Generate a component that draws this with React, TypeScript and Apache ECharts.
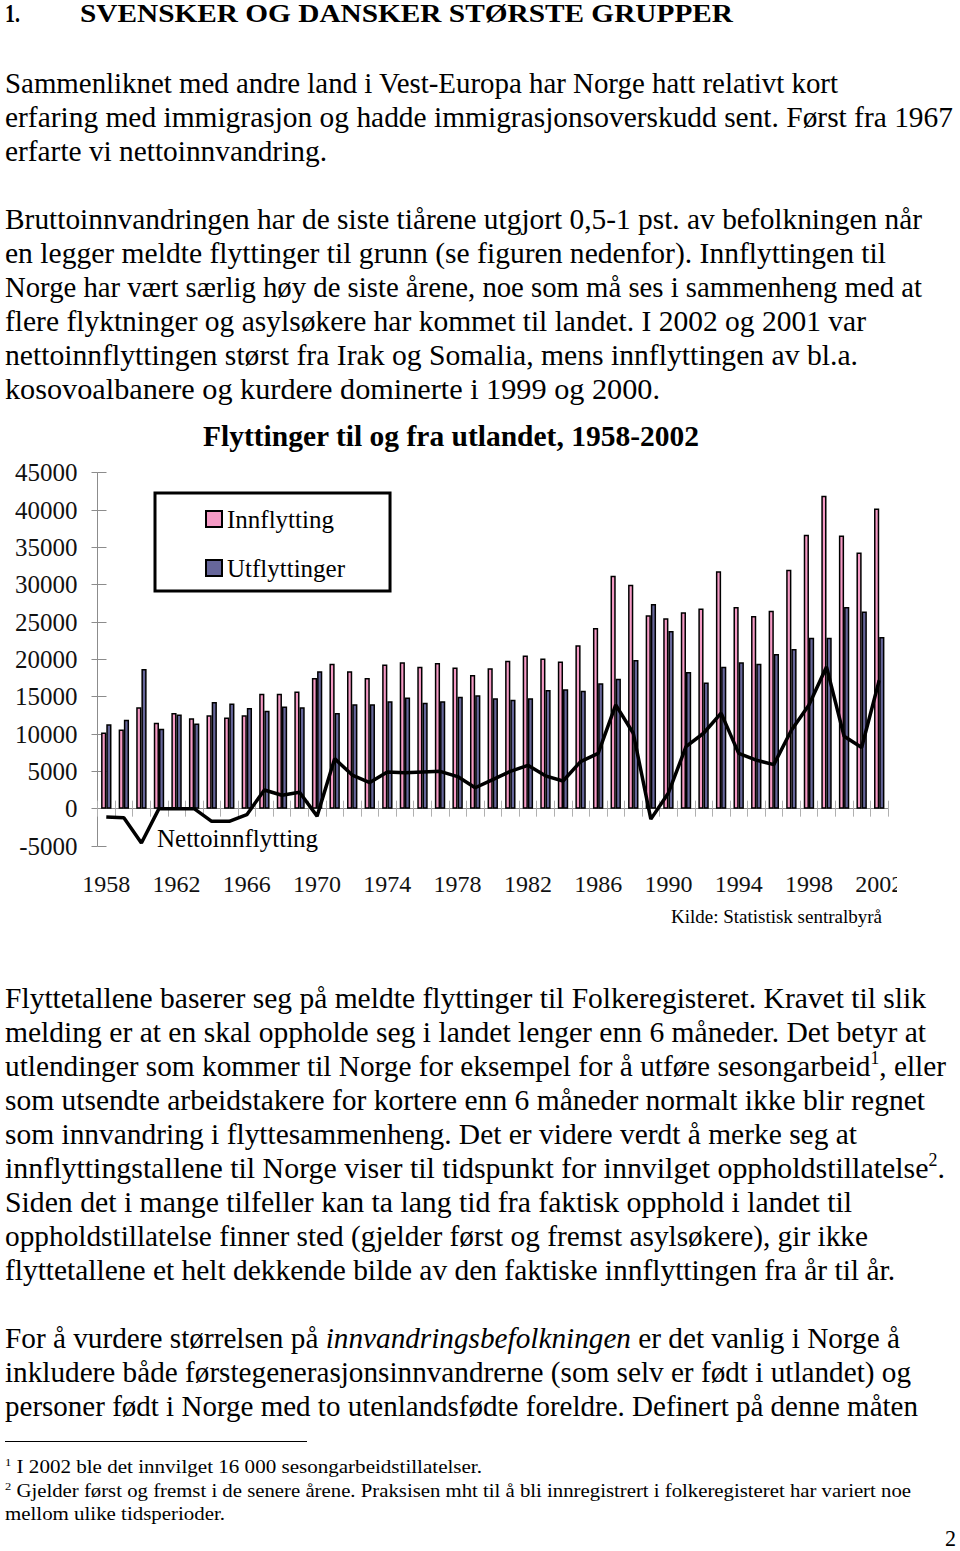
import React, { useEffect, useLayoutEffect, useRef } from "react";
import * as echarts from "echarts";

const years = [
  "1958", "1959", "1960", "1961", "1962", "1963", "1964", "1965", "1966", "1967",
  "1968", "1969", "1970", "1971", "1972", "1973", "1974", "1975", "1976", "1977",
  "1978", "1979", "1980", "1981", "1982", "1983", "1984", "1985", "1986", "1987",
  "1988", "1989", "1990", "1991", "1992", "1993", "1994", "1995", "1996", "1997",
  "1998", "1999", "2000", "2001", "2002",
];

const innflytting = [
  10200, 10600, 13600, 11500, 12800, 12100, 12500, 12200, 12500, 15400,
  15400, 15700, 17500, 19400, 18400, 17500, 19300, 19600, 19000, 19500,
  18900, 17900, 18800, 19800, 20500, 20100, 19700, 21900, 24200, 31200,
  30000, 25900, 25500, 26300, 26800, 31800, 27000, 25800, 26500, 32000,
  36700, 41900, 36600, 34300, 40200,
];

const utflyttinger = [
  11300, 11900, 18700, 10700, 12600, 11400, 14300, 14100, 13500, 13100,
  13700, 13600, 18400, 12800, 14000, 14000, 14400, 14900, 14200, 14400,
  15000, 15200, 14800, 14600, 14800, 15900, 16000, 15800, 16800, 17400,
  19900, 27400, 23800, 18300, 16900, 19000, 19600, 19400, 20700, 21400,
  22900, 22900, 27000, 26400, 23000,
];

const nettoinnflytting = [
  -1100, -1200, -4600, 0, 0, 0, -1700, -1700, -800, 2500,
  1800, 2200, -1000, 6700, 4500, 3500, 4900, 4800, 4900, 5000,
  4300, 2800, 3900, 5000, 5800, 4400, 3700, 6300, 7400, 13900,
  10100, -1400, 2100, 8300, 10100, 12800, 7400, 6500, 5900, 10500,
  13900, 19000, 9700, 8200, 17200,
];

const SERIF = '"Liberation Serif", "Times New Roman", serif';

function FitLine(props: {
  x: number;
  base: number;
  w: number;
  size: number;
  bold?: boolean;
  children: React.ReactNode;
}) {
  const ref = useRef<HTMLDivElement>(null);
  useLayoutEffect(() => {
    const el = ref.current;
    if (!el) return;
    el.style.transform = "none";
    const nat = el.getBoundingClientRect().width;
    if (nat > 0) el.style.transform = `scaleX(${props.w / nat})`;
  }, [props.w]);
  return (
    <div
      ref={ref}
      style={{
        position: "absolute",
        left: props.x,
        top: props.base - props.size * 0.8375,
        fontSize: props.size,
        lineHeight: `${props.size}px`,
        whiteSpace: "nowrap",
        fontFamily: SERIF,
        fontWeight: props.bold ? "bold" : "normal",
        transformOrigin: "0 0",
        color: "#000",
      }}
    >
      {props.children}
    </div>
  );
}

const Sup = (p: { children: React.ReactNode }) => (
  <sup style={{ fontSize: "0.6em", verticalAlign: "0.65em", lineHeight: 0 }}>{p.children}</sup>
);

function Chart() {
  const ref = useRef<HTMLDivElement>(null);
  useEffect(() => {
    if (!ref.current) return;
    const chart = echarts.init(ref.current, null, { renderer: "svg" });
    const axisGray = "#8c8c8c";
    chart.setOption({
      animation: false,
      title: {
        text: "Flyttinger til og fra utlandet, 1958-2002",
        left: 203,
        top: 21,
        padding: 0,
        textStyle: { fontFamily: SERIF, fontWeight: "bold", fontSize: 29.5, color: "#000" },
      },
      legend: {
        data: ["Innflytting", "Utflyttinger"],
        orient: "vertical",
        left: 155,
        top: 93,
        icon: "rect",
        itemWidth: 16,
        itemHeight: 16,
        itemGap: 23,
        padding: [13, 45, 10, 50],
        borderColor: "#000",
        borderWidth: 3,
        selectedMode: false,
        textStyle: { fontFamily: SERIF, fontSize: 25, lineHeight: 26, color: "#000" },
      },
      grid: {
        left: 97.5,
        top: 72.7,
        width: 790.5,
        height: 373.3,
        containLabel: false,
        outerBoundsMode: "none",
      },
      xAxis: [
        {
          type: "category",
          data: years,
          position: "bottom",
          axisLine: { show: false, onZero: false },
          axisTick: { show: false },
          axisLabel: {
            interval: 3,
            margin: 26,
            fontFamily: SERIF,
            fontSize: 24,
            color: "#111",
          },
        },
        {
          type: "category",
          data: years,
          position: "bottom",
          axisLine: { show: true, onZero: true, onZeroAxisIndex: 0, lineStyle: { color: axisGray, width: 1 } },
          axisTick: { show: true, interval: 0, length: 8, lineStyle: { color: "#b0b0b0" } },
          axisLabel: { show: false },
        },
        {
          type: "category",
          data: years,
          position: "bottom",
          axisLine: { show: false, onZero: true, onZeroAxisIndex: 0 },
          axisTick: { show: true, inside: true, interval: 0, length: 8, lineStyle: { color: "#b0b0b0" } },
          axisLabel: { show: false },
        },
      ],
      yAxis: [
        {
          type: "value",
          min: -5000,
          max: 45000,
          interval: 5000,
          position: "left",
          axisLine: { show: true, lineStyle: { color: axisGray, width: 1 } },
          axisTick: { show: true, length: 6, lineStyle: { color: axisGray } },
          splitLine: { show: false },
          axisLabel: {
            margin: 20,
            fontFamily: SERIF,
            fontSize: 25,
            color: "#111",
            formatter: (v: number) => String(v),
          },
        },
        {
          type: "value",
          min: -5000,
          max: 45000,
          interval: 5000,
          position: "left",
          axisLine: { show: false },
          axisTick: { show: true, inside: true, length: 9, lineStyle: { color: axisGray } },
          splitLine: { show: false },
          axisLabel: { show: false },
        },
      ],
      series: [
        {
          name: "Innflytting",
          type: "bar",
          data: innflytting,
          barWidth: 5.2,
          barGap: "0%",
          itemStyle: { color: "#F59AC5", borderColor: "#000", borderWidth: 1.5 },
          z: 2,
        },
        {
          name: "Utflyttinger",
          type: "bar",
          data: utflyttinger,
          barWidth: 5.2,
          barGap: "0%",
          itemStyle: { color: "#66669A", borderColor: "#000", borderWidth: 1.5 },
          z: 2,
        },
        {
          name: "Nettoinnflytting",
          type: "line",
          data: nettoinnflytting,
          showSymbol: false,
          symbol: "none",
          lineStyle: { color: "#000", width: 3.5 },
          z: 5,
        },
      ],
      graphic: [
        {
          type: "text",
          left: 157,
          top: 426,
          style: { text: "Nettoinnflytting", fontFamily: SERIF, fontSize: 25, fill: "#000" },
        },
        {
          type: "text",
          right: 15,
          top: 507,
          style: { text: "Kilde: Statistisk sentralbyrå", fontFamily: SERIF, fontSize: 19, fill: "#000" },
        },
      ],
    });
    return () => chart.dispose();
  }, []);
  return (
    <div
      ref={ref}
      style={{ position: "absolute", left: 0, top: 400, width: 897, height: 540 }}
    />
  );
}

export default function App() {
  const S = 30;
  return (
    <div style={{ position: "absolute", left: 0, top: 0, width: 960, height: 1551, background: "#fff", overflow: "hidden" }}>
      <FitLine x={5} base={23} w={15} size={26} bold>1.</FitLine>
      <FitLine x={80} base={23} w={653} size={26} bold>SVENSKER OG DANSKER STØRSTE GRUPPER</FitLine>

      <FitLine x={5} base={93} w={833} size={S}>Sammenliknet med andre land i Vest-Europa har Norge hatt relativt kort</FitLine>
      <FitLine x={5} base={127} w={948} size={S}>erfaring med immigrasjon og hadde immigrasjonsoverskudd sent. Først fra 1967</FitLine>
      <FitLine x={5} base={161} w={322} size={S}>erfarte vi nettoinnvandring.</FitLine>

      <FitLine x={5} base={229} w={917} size={S}>Bruttoinnvandringen har de siste tiårene utgjort 0,5-1 pst. av befolkningen når</FitLine>
      <FitLine x={5} base={263} w={881} size={S}>en legger meldte flyttinger til grunn (se figuren nedenfor). Innflyttingen til</FitLine>
      <FitLine x={5} base={297} w={917} size={S}>Norge har vært særlig høy de siste årene, noe som må ses i sammenheng med at</FitLine>
      <FitLine x={5} base={331} w={861} size={S}>flere flyktninger og asylsøkere har kommet til landet. I 2002 og 2001 var</FitLine>
      <FitLine x={5} base={365} w={853} size={S}>nettoinnflyttingen størst fra Irak og Somalia, mens innflyttingen av bl.a.</FitLine>
      <FitLine x={5} base={399} w={655} size={S}>kosovoalbanere og kurdere dominerte i 1999 og 2000.</FitLine>

      <Chart />

      <FitLine x={5} base={1008} w={921} size={S}>Flyttetallene baserer seg på meldte flyttinger til Folkeregisteret. Kravet til slik</FitLine>
      <FitLine x={5} base={1042} w={921} size={S}>melding er at en skal oppholde seg i landet lenger enn 6 måneder. Det betyr at</FitLine>
      <FitLine x={5} base={1076} w={941} size={S}>utlendinger som kommer til Norge for eksempel for å utføre sesongarbeid<Sup>1</Sup>, eller</FitLine>
      <FitLine x={5} base={1110} w={920} size={S}>som utsendte arbeidstakere for kortere enn 6 måneder normalt ikke blir regnet</FitLine>
      <FitLine x={5} base={1144} w={852} size={S}>som innvandring i flyttesammenheng. Det er videre verdt å merke seg at</FitLine>
      <FitLine x={5} base={1178} w={940} size={S}>innflyttingstallene til Norge viser til tidspunkt for innvilget oppholdstillatelse<Sup>2</Sup>.</FitLine>
      <FitLine x={5} base={1212} w={847} size={S}>Siden det i mange tilfeller kan ta lang tid fra faktisk opphold i landet til</FitLine>
      <FitLine x={5} base={1246} w={863} size={S}>oppholdstillatelse finner sted (gjelder først og fremst asylsøkere), gir ikke</FitLine>
      <FitLine x={5} base={1280} w={890} size={S}>flyttetallene et helt dekkende bilde av den faktiske innflyttingen fra år til år.</FitLine>

      <FitLine x={5} base={1348} w={895} size={S}>For å vurdere størrelsen på <i>innvandringsbefolkningen</i> er det vanlig i Norge å</FitLine>
      <FitLine x={5} base={1382} w={906} size={S}>inkludere både førstegenerasjonsinnvandrerne (som selv er født i utlandet) og</FitLine>
      <FitLine x={5} base={1416} w={913} size={S}>personer født i Norge med to utenlandsfødte foreldre. Definert på denne måten</FitLine>

      <div style={{ position: "absolute", left: 5, top: 1441, width: 302, height: 1, background: "#000" }} />
      <FitLine x={5} base={1473} w={477} size={19}><Sup>1</Sup> I 2002 ble det innvilget 16 000 sesongarbeidstillatelser.</FitLine>
      <FitLine x={5} base={1497} w={906} size={19}><Sup>2</Sup> Gjelder først og fremst i de senere årene. Praksisen mht til å bli innregistrert i folkeregisteret har variert noe</FitLine>
      <FitLine x={5} base={1520} w={220} size={19}>mellom ulike tidsperioder.</FitLine>
      <FitLine x={945} base={1546} w={11} size={24}>2</FitLine>
    </div>
  );
}
